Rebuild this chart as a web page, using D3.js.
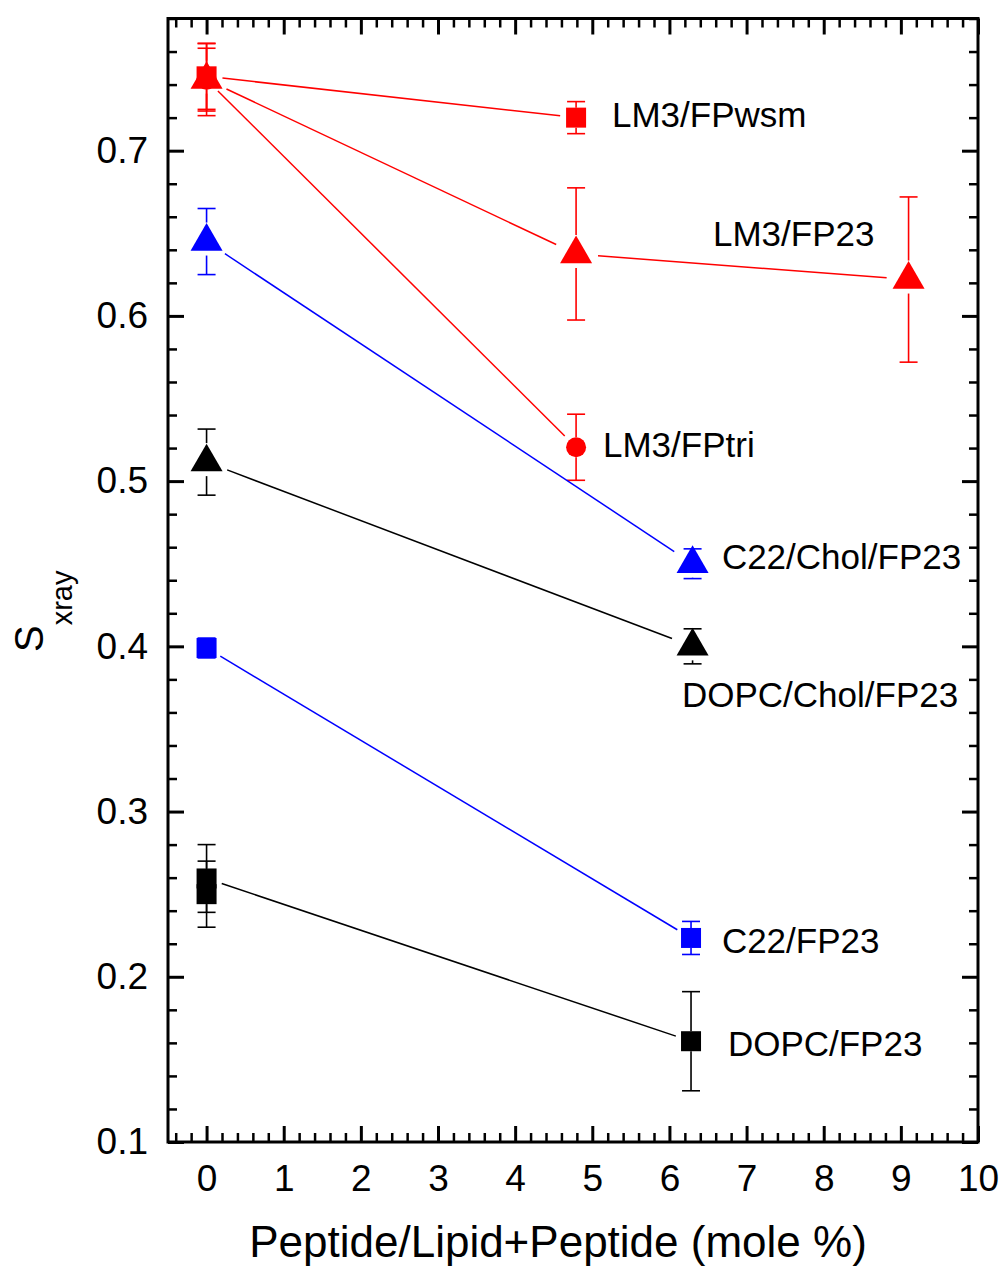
<!DOCTYPE html>
<html>
<head>
<meta charset="utf-8">
<script src="https://cdn.jsdelivr.net/npm/d3@7"></script>
<style>
  html, body { margin: 0; padding: 0; background: #fff; }
  svg { display: block; }
  text { font-family: "Liberation Sans", Arial, Helvetica, sans-serif; fill: #000; }
</style>
</head>
<body>
<svg id="chart" width="1005" height="1267"></svg>
<script>
// ---------------- DATA ----------------
const xTickValues = [0, 1, 2, 3, 4, 5, 6, 7, 8, 9, 10];
const yTickValues = [0.1, 0.2, 0.3, 0.4, 0.5, 0.6, 0.7];
const xAxisTitle = "Peptide/Lipid+Peptide (mole %)";

const seriesNames  = ["LM3/FPwsm", "LM3/FPtri", "LM3/FP23", "C22/Chol/FP23", "DOPC/Chol/FP23", "C22/FP23", "DOPC/FP23", "DOPC/FP23 (replicate)"];
const seriesColors = ["#ff0000", "#ff0000", "#ff0000", "#0000ff", "#000000", "#0000ff", "#000000", "#000000"];
const seriesShapes = ["square", "circle", "triangle", "triangle", "triangle", "square", "square", "square"];
const seriesHasLine = [true, true, true, true, true, true, true, false];

const xLM3wsm = [0, 4.79],        yLM3wsm = [0.745, 0.720],        eLM3wsm = [0.020, 0.0097];
const xLM3tri = [0, 4.79],        yLM3tri = [0.743, 0.5205],       eLM3tri = [0.019, 0.020];
const xLM3fp23 = [0, 4.79, 9.1],  yLM3fp23 = [0.743, 0.6375, 0.622], eLM3fp23 = [0.0218, 0.040, 0.050];
const xC22Chol = [0, 6.3],        yC22Chol = [0.645, 0.450],       eC22Chol = [0.020, 0.009];
const xDOPCChol = [0, 6.3],       yDOPCChol = [0.5115, 0.400],     eDOPCChol = [0.020, 0.0106];
const xC22 = [0, 6.28],           yC22 = [0.399, 0.2235],          eC22 = [0.006, 0.010];
const xDOPC = [0, 6.28],          yDOPC = [0.2595, 0.161],         eDOPC = [0.0205, 0.030];
const xDOPCrep = [0],             yDOPCrep = [0.250],              eDOPCrep = [0.020];

const seriesX = [xLM3wsm, xLM3tri, xLM3fp23, xC22Chol, xDOPCChol, xC22, xDOPC, xDOPCrep];
const seriesY = [yLM3wsm, yLM3tri, yLM3fp23, yC22Chol, yDOPCChol, yC22, yDOPC, yDOPCrep];
const seriesE = [eLM3wsm, eLM3tri, eLM3fp23, eC22Chol, eDOPCChol, eC22, eDOPC, eDOPCrep];

// annotation labels (text, anchor in data coordinates: x, baseline y)
const labelTexts = ["LM3/FPwsm", "LM3/FP23", "LM3/FPtri", "C22/Chol/FP23", "DOPC/Chol/FP23", "C22/FP23", "DOPC/FP23"];
const labelX = [5.255, 6.565, 5.139, 6.68, 6.163, 6.68, 6.758];
const labelY = [0.7144, 0.6424, 0.5147, 0.4469, 0.3634, 0.2144, 0.1521];

// ---------------- LAYOUT ----------------
const svg = d3.select("#chart");
const L = 168, R = 978, T = 18.5, B = 1142;
const x = d3.scaleLinear().domain([-0.5, 10]).range([L, R]);
const y = d3.scaleLinear().domain([0.1, 0.78]).range([B, T]);

svg.append("rect").attr("width", 1005).attr("height", 1267).attr("fill", "#fff");

const majorLen = 16, minorLen = 9;
const xMinor = d3.range(-0.4, 10.0001, 0.2).filter(v => Math.abs(v - Math.round(v)) > 1e-6);
const yMinor = d3.range(0.12, 0.7801, 0.02).filter(v => Math.abs(v * 10 - Math.round(v * 10)) > 1e-6);

function styleAxis(g, w) {
  g.select(".domain").remove();
  g.selectAll(".tick line").attr("stroke", "#000").attr("stroke-width", w);
}

// bottom
svg.append("g").attr("transform", `translate(0,${B})`)
  .call(d3.axisBottom(x).tickValues(xTickValues).tickSize(-majorLen).tickPadding(23).tickFormat(d3.format("d")))
  .call(g => { styleAxis(g, 3); g.selectAll("text").attr("font-size", 37).attr("font-family", "Liberation Sans, Arial, sans-serif"); });
svg.append("g").attr("transform", `translate(0,${B})`)
  .call(d3.axisBottom(x).tickValues(xMinor).tickSize(-minorLen).tickFormat(""))
  .call(g => styleAxis(g, 2.5));
// top
svg.append("g").attr("transform", `translate(0,${T})`)
  .call(d3.axisTop(x).tickValues(xTickValues).tickSize(-majorLen).tickFormat(""))
  .call(g => styleAxis(g, 3));
svg.append("g").attr("transform", `translate(0,${T})`)
  .call(d3.axisTop(x).tickValues(xMinor).tickSize(-minorLen).tickFormat(""))
  .call(g => styleAxis(g, 2.5));
// left
svg.append("g").attr("transform", `translate(${L},0)`)
  .call(d3.axisLeft(y).tickValues(yTickValues).tickSize(-majorLen).tickPadding(20).tickFormat(d3.format(".1f")))
  .call(g => { styleAxis(g, 3); g.selectAll("text").attr("font-size", 37).attr("font-family", "Liberation Sans, Arial, sans-serif"); });
svg.append("g").attr("transform", `translate(${L},0)`)
  .call(d3.axisLeft(y).tickValues(yMinor).tickSize(-minorLen).tickFormat(""))
  .call(g => styleAxis(g, 2.5));
// right
svg.append("g").attr("transform", `translate(${R},0)`)
  .call(d3.axisRight(y).tickValues(yTickValues).tickSize(-majorLen).tickFormat(""))
  .call(g => styleAxis(g, 3));
svg.append("g").attr("transform", `translate(${R},0)`)
  .call(d3.axisRight(y).tickValues(yMinor).tickSize(-minorLen).tickFormat(""))
  .call(g => styleAxis(g, 2.5));

// frame
svg.append("rect").attr("x", L).attr("y", T).attr("width", R - L).attr("height", B - T)
  .attr("fill", "none").attr("stroke", "#000").attr("stroke-width", 3);

// axis titles
svg.append("text").attr("x", 558).attr("y", 1257).attr("text-anchor", "middle")
  .attr("font-size", 44).text(xAxisTitle);
const yt = svg.append("text").attr("transform", "translate(43,652) rotate(-90)");
yt.append("tspan").attr("font-size", 40).text("S");
yt.append("tspan").attr("font-size", 29).attr("dy", 29).text("xray");

// ---------------- MARKS ----------------
const triW = 32, triH = 27.7, sq = 20, circR = 10;
const lineGap = { triangle: 22, square: 16, circle: 16 };
const errGapTop = { triangle: 19, square: 10, circle: 10 };
const errGapBot = { triangle: 14, square: 10, circle: 10 };
const capW = 18;

const plot = svg.append("g");
const lineGen = d3.line();

seriesNames.forEach((name, i) => {
  const color = seriesColors[i];
  const shape = seriesShapes[i];
  const pts = seriesX[i].map((xv, j) => ({ px: x(xv), py: y(seriesY[i][j]), v: seriesY[i][j], e: seriesE[i][j] }));
  const g = plot.append("g").attr("class", "series");

  // connecting lines with gaps around markers
  if (seriesHasLine[i]) {
    for (let j = 0; j < pts.length - 1; j++) {
      const a = pts[j], b = pts[j + 1];
      const dx = b.px - a.px, dy = b.py - a.py, len = Math.hypot(dx, dy);
      const ux = dx / len, uy = dy / len, gp = lineGap[shape];
      g.append("path")
        .attr("d", lineGen([[a.px + ux * gp, a.py + uy * gp], [b.px - ux * gp, b.py - uy * gp]]))
        .attr("fill", "none").attr("stroke", color).attr("stroke-width", 1.5);
    }
  }

  // error bars
  pts.forEach(p => {
    const yTop = y(p.v + p.e), yBot = y(p.v - p.e);
    const segs = [];
    if (p.py - errGapTop[shape] > yTop) segs.push([[p.px, yTop], [p.px, p.py - errGapTop[shape]]]);
    if (p.py + errGapBot[shape] < yBot) segs.push([[p.px, p.py + errGapBot[shape]], [p.px, yBot]]);
    segs.push([[p.px - capW / 2, yTop], [p.px + capW / 2, yTop]]);
    segs.push([[p.px - capW / 2, yBot], [p.px + capW / 2, yBot]]);
    segs.forEach(s => g.append("path").attr("d", lineGen(s)).attr("fill", "none")
      .attr("stroke", color).attr("stroke-width", 1.6));
  });

  // markers
  pts.forEach(p => {
    if (shape === "triangle") {
      g.append("path")
        .attr("d", `M${p.px},${p.py - 2 * triH / 3} L${p.px + triW / 2},${p.py + triH / 3} L${p.px - triW / 2},${p.py + triH / 3} Z`)
        .attr("fill", color);
    } else if (shape === "square") {
      g.append("rect").attr("x", p.px - sq / 2).attr("y", p.py - sq / 2)
        .attr("width", sq).attr("height", sq).attr("fill", color);
    } else {
      g.append("circle").attr("cx", p.px).attr("cy", p.py).attr("r", circR).attr("fill", color);
    }
  });
});

// annotation labels
labelTexts.forEach((t, i) => {
  svg.append("text").attr("x", x(labelX[i])).attr("y", y(labelY[i]))
    .attr("font-size", 35).text(t);
});
</script>
</body>
</html>
